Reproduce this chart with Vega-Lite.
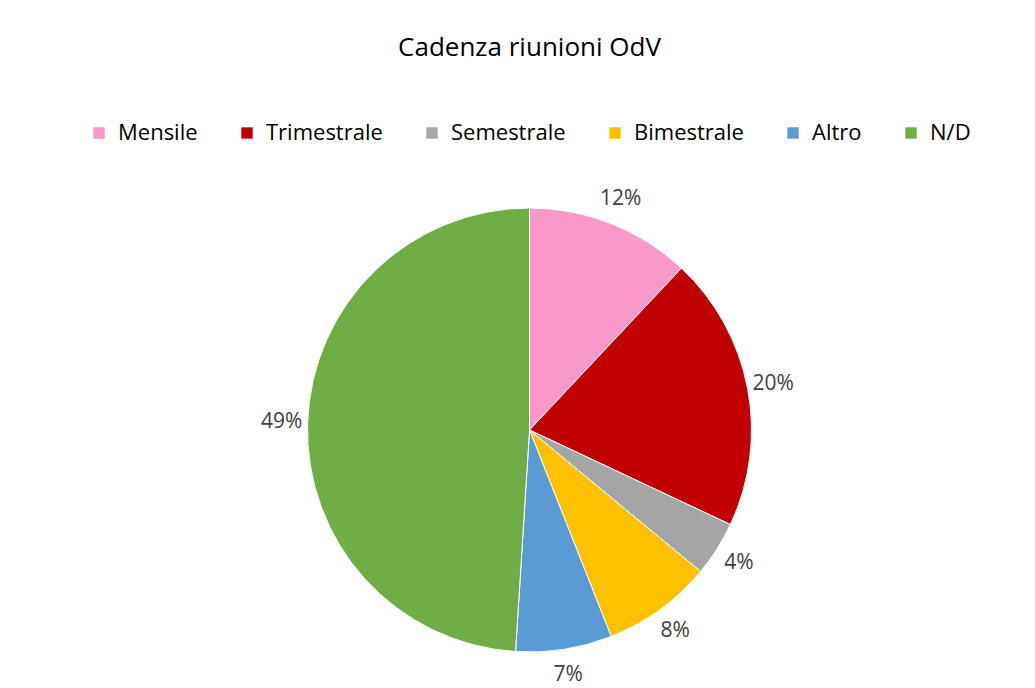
{
  "$schema": "https://vega.github.io/schema/vega-lite/v6.json",
  "width": 1035,
  "height": 688,
  "autosize": {"type": "fit", "contains": "padding"},
  "padding": {"left": 24, "top": 35, "right": 0, "bottom": 2},
  "background": "white",
  "config": {
    "view": {"stroke": null},
    "font": "Open Sans",
    "legend": {"layout": {"top": {"anchor": "middle"}}}
  },
  "title": {
    "text": "Cadenza riunioni OdV",
    "fontSize": 26,
    "fontWeight": "normal",
    "font": "Open Sans",
    "color": "#000000",
    "anchor": "middle",
    "offset": 61
  },
  "data": {
    "values": [
      {"idx": 1, "category": "Mensile", "share": 0.12},
      {"idx": 2, "category": "Trimestrale", "share": 0.20},
      {"idx": 3, "category": "Semestrale", "share": 0.04},
      {"idx": 4, "category": "Bimestrale", "share": 0.08},
      {"idx": 5, "category": "Altro", "share": 0.07},
      {"idx": 6, "category": "N/D", "share": 0.49}
    ]
  },
  "encoding": {
    "theta": {"field": "share", "type": "quantitative", "stack": true},
    "order": {"field": "idx", "type": "quantitative"}
  },
  "layer": [
    {
      "mark": {"type": "arc", "outerRadius": 222, "stroke": "white", "strokeWidth": 1},
      "encoding": {
        "color": {
          "field": "category",
          "type": "nominal",
          "scale": {
            "domain": ["Mensile", "Trimestrale", "Semestrale", "Bimestrale", "Altro", "N/D"],
            "range": ["#F899CA", "#C00000", "#A5A5A5", "#FFC000", "#5B9BD5", "#70AD47"]
          },
          "legend": {
            "orient": "top",
            "direction": "horizontal",
            "title": null,
            "symbolType": "square",
            "symbolSize": 130,
            "symbolStrokeWidth": 0,
            "labelFontSize": 22,
            "labelFont": "Open Sans",
            "labelColor": "#000000",
            "labelOffset": 8,
            "columnPadding": 38,
            "offset": 30
          }
        }
      }
    },
    {
      "mark": {"type": "text", "radius": 248, "fontSize": 21, "font": "Open Sans", "color": "#404040"},
      "encoding": {
        "text": {"field": "share", "type": "quantitative", "format": ".0%"}
      }
    }
  ]
}
